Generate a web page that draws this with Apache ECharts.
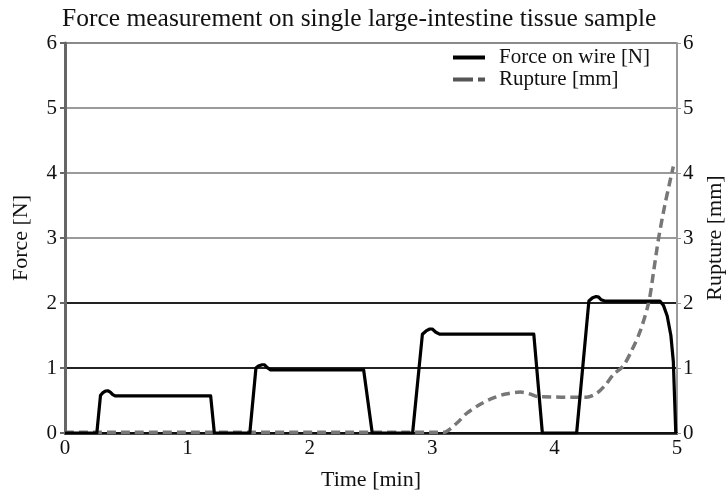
<!DOCTYPE html>
<html>
<head>
<meta charset="utf-8">
<script src="https://cdn.jsdelivr.net/npm/echarts@6/dist/echarts.min.js"></script>
<style>html,body{margin:0;padding:0;background:#fff;}#c{width:728px;height:492px;}</style>
</head>
<body>
<div id="c"></div>
<script>
const titleText = 'Force measurement on single large-intestine tissue sample';
const xTicks = [0, 1, 2, 3, 4, 5];
const yTicks = [0, 1, 2, 3, 4, 5, 6];
const forceName = 'Force on wire [N]';
const ruptureName = 'Rupture [mm]';
const forceData = [[0,0],[0.26,0],[0.29,0.58],[0.31,0.62],[0.33,0.645],[0.35,0.65],[0.37,0.63],[0.39,0.59],[0.41,0.57],[1.19,0.57],[1.22,0],[1.51,0],[1.56,1.0],[1.58,1.03],[1.61,1.05],[1.63,1.05],[1.65,1.01],[1.68,0.97],[2.44,0.97],[2.51,0],[2.84,0],[2.92,1.52],[2.95,1.57],[2.98,1.6],[3.0,1.6],[3.03,1.55],[3.06,1.52],[3.83,1.52],[3.9,0],[4.18,0],[4.28,2.03],[4.31,2.08],[4.34,2.1],[4.36,2.09],[4.38,2.05],[4.41,2.03],[4.86,2.03],[4.89,1.96],[4.92,1.8],[4.95,1.5],[4.97,1.1],[4.99,0]];
const ruptureData = [[0,0.01],[3.0,0.01],[3.09,0.01],[3.2,0.15],[3.28,0.3],[3.4,0.45],[3.5,0.54],[3.6,0.6],[3.72,0.63],[3.8,0.6],[3.86,0.56],[4.26,0.55],[4.35,0.62],[4.42,0.75],[4.48,0.9],[4.56,1.03],[4.63,1.27],[4.70,1.57],[4.77,2.02],[4.81,2.5],[4.85,3.0],[4.9,3.5],[4.94,3.85],[4.97,4.1]];

const font = 'Liberation Serif';
const chart = echarts.init(document.getElementById('c'), null, {renderer: 'canvas'});
chart.setOption({
  animation: false,
  backgroundColor: '#fff',
  textStyle: {fontFamily: font, color: '#111'},
  title: {text: titleText, left: 57, top: 1, textStyle: {fontFamily: font, fontSize: 25.5, fontWeight: 'normal', color: '#111'}},
  grid: {left: 65, right: 51, top: 43, bottom: 59, outerBoundsMode: 'none', containLabel: false},
  legend: {
    orient: 'vertical', left: 448, top: 42, itemGap: 1, itemWidth: 32, itemHeight: 4,
    textStyle: {fontFamily: font, fontSize: 21, color: '#111', padding: [0, 0, 0, 9]},
    data: [
      {name: forceName, icon: 'path://M0,0H32V4H0Z', itemStyle: {color: '#000'}},
      {name: ruptureName, icon: 'path://M0,0H20V4H0Z M25,0H32V4H25Z', itemStyle: {color: '#555'}}
    ]
  },
  xAxis: {
    type: 'value', min: 0, max: 5, interval: 1,
    name: 'Time [min]', nameLocation: 'middle', nameGap: 36,
    nameTextStyle: {fontFamily: font, fontSize: 22, color: '#111'},
    axisLine: {lineStyle: {color: '#111', width: 2.5}},
    axisTick: {show: false},
    axisLabel: {fontFamily: font, fontSize: 21, color: '#111', margin: 5, formatter: v => xTicks.includes(v) ? String(v) : ''},
    splitLine: {show: false}
  },
  yAxis: [{
    type: 'value', min: 0, max: 6, interval: 1, position: 'left',
    name: 'Force [N]', nameLocation: 'middle', nameGap: 33,
    nameTextStyle: {fontFamily: font, fontSize: 22, color: '#111'},
    axisLine: {show: true, lineStyle: {color: '#666', width: 3}},
    axisTick: {show: true, length: 5, lineStyle: {color: '#666', width: 2}},
    axisLabel: {fontFamily: font, fontSize: 21, color: '#111', margin: 8, formatter: v => yTicks.includes(v) ? String(v) : ''},
    splitLine: {show: true, lineStyle: {color: ['#111', '#222', '#222', '#9a9a9a', '#9a9a9a', '#9a9a9a', '#8a8a8a'], width: 2}}
  }, {
    type: 'value', min: 0, max: 6, interval: 1, position: 'right',
    name: 'Rupture [mm]', nameLocation: 'middle', nameGap: 26,
    nameTextStyle: {fontFamily: font, fontSize: 22, color: '#111'},
    axisLine: {show: true, lineStyle: {color: '#999', width: 2}},
    axisTick: {show: true, length: 4, lineStyle: {color: '#999'}},
    axisLabel: {fontFamily: font, fontSize: 21, color: '#111', margin: 6, formatter: v => yTicks.includes(v) ? String(v) : ''},
    splitLine: {show: false}
  }],
  series: [{
    name: forceName, type: 'line', yAxisIndex: 0, data: forceData, symbol: 'none', smooth: false,
    lineStyle: {color: '#000', width: 3.2, join: 'round'}, itemStyle: {color: '#000'}, z: 3
  }, {
    name: ruptureName, type: 'line', yAxisIndex: 1, data: ruptureData, symbol: 'none', smooth: 0.3,
    lineStyle: {color: '#777', width: 3.5, type: [9, 5]}, itemStyle: {color: '#777'}, z: 2
  }]
});
</script>
</body>
</html>
